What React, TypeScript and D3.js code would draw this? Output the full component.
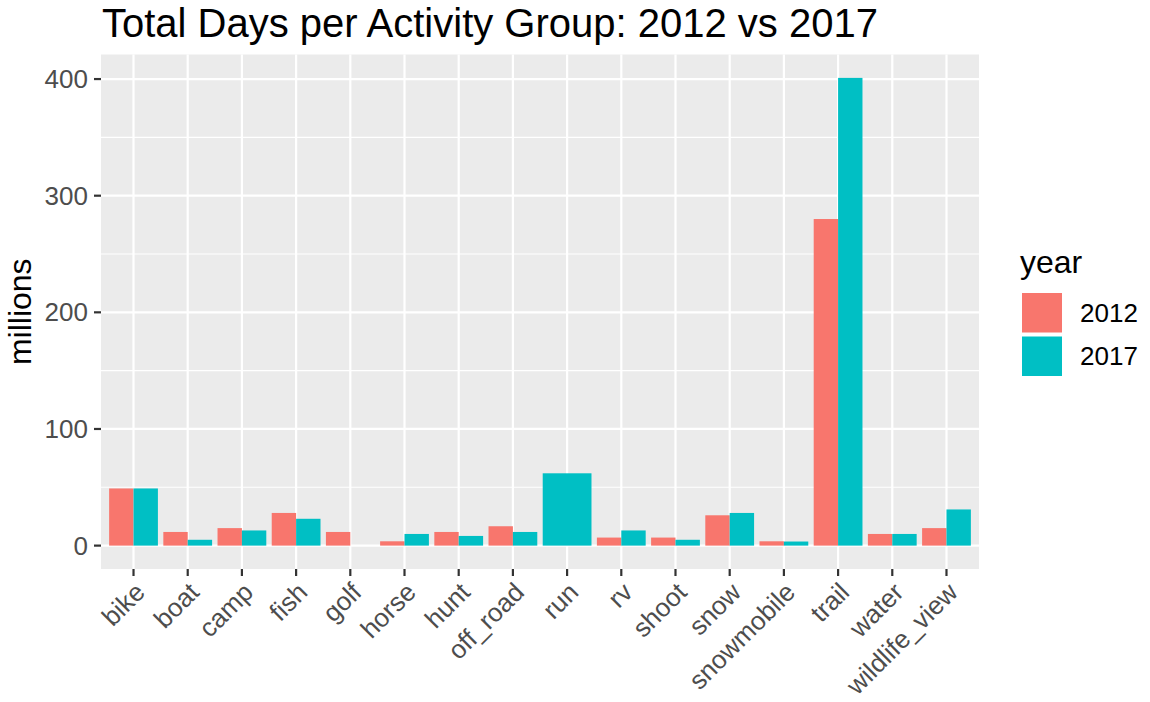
import React from "react";
import * as d3 from "d3";

const categories = [
  "bike", "boat", "camp", "fish", "golf", "horse", "hunt", "off_road",
  "run", "rv", "shoot", "snow", "snowmobile", "trail", "water", "wildlife_view",
];
const years = ["2012", "2017"];
const values2012: (number | null)[] = [49, 11.7, 15, 28, 11.7, 3.7, 11.7, 16.6, null, 6.9, 6.9, 26, 3.7, 280, 10, 15];
const values2017: (number | null)[] = [49, 5, 13, 23, 0, 10, 8.3, 11.7, 62, 13, 5, 28, 3.5, 401, 10, 31];
const yMajorTicks = [0, 100, 200, 300, 400];
const yMinorTicks = [50, 150, 250, 350];
const colors = ["#F8766D", "#00BFC4"];
const titleText = "Total Days per Activity Group: 2012 vs 2017";
const yTitle = "millions";
const legendTitle = "year";

const W = 1150;
const H = 702;
const panel = { left: 101, right: 979, top: 54.5, bottom: 569 };
const FONT = "'Liberation Sans', Arial, Helvetica, sans-serif";

export default function App() {
  const maxV = d3.max([...values2012, ...values2017].map((v) => v ?? 0)) as number;
  const ext = maxV * 0.05;
  const y = d3.scaleLinear().domain([-ext, maxV + ext]).range([panel.bottom, panel.top]);
  const x = d3.scaleLinear().domain([-0.6, categories.length - 1 + 0.6]).range([panel.left, panel.right]);

  type Bar = { key: string; x0: number; x1: number; v: number; color: string };
  const bars: Bar[] = [];
  categories.forEach((c, i) => {
    const series = [values2012[i], values2017[i]];
    const present = series.map((v, k) => ({ v, k })).filter((d) => d.v !== null);
    const n = present.length;
    const w = 0.9 / n;
    present.forEach((d, j) => {
      const a = i - 0.45 + j * w;
      bars.push({ key: `${c}-${d.k}`, x0: x(a), x1: x(a + w), v: d.v as number, color: colors[d.k] });
    });
  });

  const tickColor = "#333333";
  const labelColor = "#4D4D4D";

  return (
    <svg
      width={W}
      height={H}
      style={{ position: "absolute", left: 0, top: 0, display: "block", background: "#fff" }}
      fontFamily={FONT}
    >
      <rect x={panel.left} y={panel.top} width={panel.right - panel.left} height={panel.bottom - panel.top} fill="#EBEBEB" />
      {yMinorTicks.map((t) => (
        <line key={`ym${t}`} x1={panel.left} x2={panel.right} y1={y(t)} y2={y(t)} stroke="#fff" strokeWidth={1.1} />
      ))}
      {yMajorTicks.map((t) => (
        <line key={`yM${t}`} x1={panel.left} x2={panel.right} y1={y(t)} y2={y(t)} stroke="#fff" strokeWidth={2.2} />
      ))}
      {categories.map((c, i) => (
        <line key={`xg${c}`} x1={x(i)} x2={x(i)} y1={panel.top} y2={panel.bottom} stroke="#fff" strokeWidth={2.2} />
      ))}
      {bars.map((b) => (
        <rect key={b.key} x={b.x0} width={b.x1 - b.x0} y={y(Math.max(b.v, 0))} height={Math.abs(y(0) - y(b.v))} fill={b.color} />
      ))}
      {/* y axis */}
      {yMajorTicks.map((t) => (
        <g key={`yt${t}`}>
          <line x1={panel.left - 7} x2={panel.left} y1={y(t)} y2={y(t)} stroke={tickColor} strokeWidth={2.2} />
          <text x={panel.left - 13} y={y(t)} dy="0.35em" textAnchor="end" fontSize={26} fill={labelColor}>
            {t}
          </text>
        </g>
      ))}
      {/* x axis */}
      {categories.map((c, i) => (
        <g key={`xt${c}`}>
          <line x1={x(i)} x2={x(i)} y1={panel.bottom} y2={panel.bottom + 7} stroke={tickColor} strokeWidth={2.2} />
          <text
            transform={`translate(${x(i)},${panel.bottom + 12}) rotate(-45)`}
            dy="0.7em"
            textAnchor="end"
            fontSize={26}
            fill={labelColor}
          >
            {c}
          </text>
        </g>
      ))}
      <text
        transform={`translate(31,${(panel.top + panel.bottom) / 2}) rotate(-90)`}
        textAnchor="middle"
        fontSize={32}
        fill="#000"
      >
        {yTitle}
      </text>
      <text x={102} y={37} fontSize={40} fill="#000">
        {titleText}
      </text>
      {/* legend */}
      <text x={1020} y={273} fontSize={32} fill="#000">
        {legendTitle}
      </text>
      {years.map((yr, k) => (
        <g key={`lg${yr}`}>
          <rect x={1022} y={293 + k * 43.5} width={40} height={39.5} fill={colors[k]} />
          <text x={1080} y={293 + k * 43.5 + 19.75} dy="0.35em" fontSize={26} fill="#000">
            {yr}
          </text>
        </g>
      ))}
    </svg>
  );
}
